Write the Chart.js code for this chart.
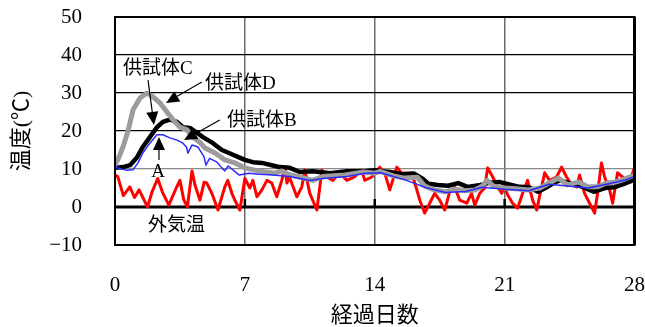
<!DOCTYPE html>
<html>
<head>
<meta charset="utf-8">
<script src="https://cdn.jsdelivr.net/npm/chart.js@4.4.1/dist/chart.umd.min.js"></script>
<style>
  html, body { margin: 0; padding: 0; background: #fff; }
  #wrap { width: 645px; height: 327px; }
</style>
</head>
<body>
<div id="wrap"><canvas id="c" width="645" height="327"></canvas></div>
<script>
// Elapsed days / temperature (°C) for each measured series
const xTicks = [0, 7, 14, 21, 28];
const yTicks = [-10, 0, 10, 20, 30, 40, 50];

// 外気温 (outdoor air)
const airDays = [0, 0.15, 0.45, 0.8, 1.05, 1.3, 1.75, 2.0, 2.3, 2.55, 2.9, 3.3, 3.5, 3.7, 3.9, 4.15, 4.31, 4.58, 4.8, 4.95, 5.22, 5.55, 5.92, 6.08, 6.3, 6.46, 6.73, 7.0, 7.27, 7.43, 7.65, 7.92, 8.19, 8.45, 8.72, 8.99, 9.15, 9.27, 9.4, 9.8, 10.07, 10.23, 10.5, 10.88, 11.04, 11.15, 11.4, 11.74, 12.1, 12.5, 12.9, 13.3, 13.46, 13.84, 14.27, 14.54, 14.81, 15.19, 15.45, 15.99, 16.16, 16.43, 16.69, 16.96, 17.23, 17.5, 17.77, 18.04, 18.31, 18.58, 18.96, 19.22, 19.39, 19.66, 19.92, 20.09, 20.36, 20.57, 20.84, 21.0, 21.16, 21.43, 21.7, 21.97, 22.24, 22.51, 22.73, 22.99, 23.16, 23.42, 23.8, 24.07, 24.34, 24.61, 24.88, 25.04, 25.31, 25.58, 25.85, 26.01, 26.22, 26.39, 26.66, 26.82, 27.09, 27.36, 27.73, 28.0];
const airTemps = [8.4, 8.0, 3.0, 5.3, 2.5, 4.5, 0.0, 4.0, 7.5, 4.0, 0.5, 5.0, 7.0, 2.0, 0.0, 9.5, 5.8, 1.8, 6.5, 6.3, 3.6, -0.8, 5.3, 7.0, 3.6, 1.8, -0.8, 7.5, 5.0, 7.0, 2.7, 4.5, 7.0, 6.3, 2.7, 7.0, 10.5, 6.3, 7.9, 2.7, 5.3, 9.7, 3.6, -0.8, 5.3, 9.7, 7.9, 7.0, 9.0, 7.0, 7.9, 9.7, 7.0, 7.9, 10.5, 8.9, 4.5, 10.5, 8.9, 8.9, 6.3, 1.8, -1.6, 1.0, 3.6, 1.8, -0.8, 4.0, 5.3, 1.8, 1.0, 3.6, 0.5, 3.6, 5.0, 10.3, 7.9, 5.8, 3.6, 5.3, 3.2, 1.0, -0.3, 3.6, 7.0, 1.8, -0.8, 5.3, 9.0, 7.0, 7.9, 10.5, 7.9, 5.8, 5.3, 8.4, 3.6, 1.0, -1.6, 3.6, 11.6, 7.9, 4.5, 1.0, 9.0, 7.9, 6.6, 10.3];

// 供試体A (thin blue)
const specADays = [0, 0.1, 0.6, 0.97, 1.24, 1.5, 1.88, 2.26, 2.58, 2.96, 3.34, 3.66, 3.85, 3.93, 4.15, 4.47, 4.8, 4.9, 5.1, 5.5, 5.76, 5.92, 6.1, 6.7, 7.2, 7.8, 8.5, 9.4, 10.5, 11.2, 12.5, 13.4, 14.3, 15.6, 16.7, 17.8, 18.9, 19.8, 21.0, 22.3, 23.4, 24.4, 25.5, 26.5, 27.5, 28.0];
const specATemps = [11.0, 10.3, 9.7, 9.8, 11.6, 14.2, 16.8, 19.0, 19.0, 18.2, 17.6, 16.8, 15.8, 14.2, 16.3, 15.8, 13.2, 11.0, 12.8, 11.8, 10.3, 9.5, 10.8, 8.4, 8.9, 8.6, 8.4, 8.0, 7.0, 7.5, 8.0, 8.8, 9.0, 7.2, 5.2, 3.8, 4.1, 5.2, 4.7, 4.3, 6.0, 5.5, 5.0, 6.0, 7.1, 8.0];

// 供試体 (thick grey)
const specCDays = [0, 0.2, 0.43, 0.7, 0.97, 1.35, 1.72, 2.05, 2.42, 2.8, 3.12, 3.5, 3.88, 4.2, 4.58, 4.85, 5.39, 5.92, 6.46, 7.0, 7.54, 8.08, 8.62, 9.0, 9.4, 9.96, 10.66, 11.2, 12.4, 13.4, 14.0, 14.3, 15.0, 15.6, 16.3, 16.7, 17.2, 17.8, 18.3, 18.9, 19.4, 19.8, 20.05, 20.4, 21.0, 21.6, 22.3, 22.9, 23.4, 23.9, 24.4, 25.0, 25.5, 26.0, 26.5, 27.0, 27.5, 28.0];
const specCTemps = [11.0, 13.0, 15.8, 20.0, 25.5, 28.7, 30.0, 29.0, 27.4, 25.0, 23.0, 21.0, 20.3, 18.4, 17.0, 15.5, 14.2, 12.4, 11.6, 10.3, 9.7, 9.2, 8.9, 9.5, 8.5, 7.9, 7.0, 8.0, 8.4, 9.2, 8.9, 9.4, 8.2, 7.6, 7.8, 5.5, 4.5, 4.0, 4.7, 4.3, 4.5, 5.5, 7.0, 5.5, 5.0, 4.8, 4.5, 5.0, 6.3, 7.6, 5.8, 6.6, 5.3, 5.3, 6.3, 6.6, 7.4, 8.4];

// 供試体 (thick black)
const specDDays = [0, 0.43, 0.81, 1.18, 1.5, 1.88, 2.26, 2.58, 2.96, 3.34, 3.66, 4.04, 4.36, 4.74, 5.28, 5.76, 6.14, 6.62, 7.0, 7.43, 7.92, 8.45, 8.88, 9.42, 9.96, 10.66, 11.6, 12.5, 13.4, 14.0, 14.8, 15.5, 16.1, 16.6, 16.9, 17.4, 17.95, 18.5, 19.0, 19.7, 20.2, 20.7, 21.2, 21.8, 22.3, 22.8, 23.2, 23.7, 24.0, 24.5, 25.2, 25.8, 26.4, 26.9, 27.4, 27.9, 28.0];
const specDTemps = [10.3, 10.5, 11.0, 13.0, 15.8, 18.4, 21.0, 22.4, 23.0, 22.4, 21.0, 20.8, 19.7, 18.4, 16.8, 15.0, 14.2, 13.2, 12.4, 11.8, 11.6, 11.0, 10.5, 10.3, 9.2, 9.4, 8.9, 9.4, 9.4, 9.7, 9.2, 8.6, 8.8, 7.4, 6.1, 5.8, 5.6, 6.3, 5.3, 5.8, 6.4, 6.6, 6.0, 5.3, 5.2, 4.0, 5.0, 6.5, 7.0, 6.3, 5.3, 4.0, 5.0, 5.2, 6.0, 7.0, 7.5];

// Callout labels and arrows, placed in data units (day, °C)
const calloutTexts = ['供試体C', '供試体D', '供試体B'];
const calloutAnchors = [[0.43, 36.3], [4.85, 32.4], [6.03, 22.6]];
const arrowFrom = [[1.78, 33.4], [4.68, 32.9], [5.65, 22.9], [2.37, 12.4]];
const arrowTo = [[2.10, 21.6], [2.75, 27.4], [3.72, 17.6], [2.37, 18.4]];

const SERIF = "'Liberation Serif', 'Noto Sans CJK JP', serif";

function pts(xs, ys) { return xs.map((x, i) => ({ x: x, y: ys[i] })); }

const overlay = {
  id: 'overlay',
  beforeDatasetsDraw(chart) {
    const { ctx, chartArea: a, scales: { x, y } } = chart;
    ctx.save();
    // zero line
    const y0 = y.getPixelForValue(0);
    ctx.strokeStyle = '#000';
    ctx.lineWidth = 3;
    ctx.beginPath(); ctx.moveTo(a.left, y0); ctx.lineTo(a.right, y0); ctx.stroke();
    // tick marks on the zero line
    ctx.lineWidth = 2.5;
    [7, 14, 21].forEach(d => {
      const px = x.getPixelForValue(d);
      ctx.beginPath(); ctx.moveTo(px, y0); ctx.lineTo(px, y0 - 8); ctx.stroke();
    });
    ctx.restore();
  },
  afterDatasetsDraw(chart) {
    const { ctx, chartArea: a, scales: { x, y } } = chart;
    ctx.save();
    // frame
    ctx.strokeStyle = '#000';
    ctx.lineWidth = 2;
    ctx.strokeRect(a.left, a.top, a.right - a.left, a.bottom - a.top);
    ctx.lineWidth = 3;
    ctx.beginPath(); ctx.moveTo(a.right, a.top); ctx.lineTo(a.right, a.bottom); ctx.stroke();

    // callout texts
    ctx.fillStyle = '#000';
    ctx.font = '19px ' + SERIF;
    ctx.textBaseline = 'middle';
    ctx.textAlign = 'left';
    calloutTexts.forEach((t, i) => {
      ctx.fillText(t, x.getPixelForValue(calloutAnchors[i][0]), y.getPixelForValue(calloutAnchors[i][1]));
    });
    ctx.textAlign = 'center';
    ctx.fillText('A', x.getPixelForValue(2.32), y.getPixelForValue(9.2));
    ctx.textAlign = 'left';
    ctx.fillText('外気温', x.getPixelForValue(1.78), y.getPixelForValue(-5));

    // arrows
    arrowFrom.forEach((f, i) => {
      const x1 = x.getPixelForValue(f[0]), y1 = y.getPixelForValue(f[1]);
      const x2 = x.getPixelForValue(arrowTo[i][0]), y2 = y.getPixelForValue(arrowTo[i][1]);
      const ang = Math.atan2(y2 - y1, x2 - x1);
      const hl = 13, hw = 6;
      const bx = x2 - hl * Math.cos(ang), by = y2 - hl * Math.sin(ang);
      ctx.strokeStyle = '#000';
      ctx.lineWidth = 1.2;
      ctx.beginPath(); ctx.moveTo(x1, y1); ctx.lineTo(bx, by); ctx.stroke();
      ctx.beginPath();
      ctx.moveTo(x2, y2);
      ctx.lineTo(bx + hw * Math.sin(ang), by - hw * Math.cos(ang));
      ctx.lineTo(bx - hw * Math.sin(ang), by + hw * Math.cos(ang));
      ctx.closePath();
      ctx.fill();
    });
    ctx.restore();
  }
};

new Chart(document.getElementById('c'), {
  type: 'line',
  data: {
    datasets: [
      { label: '供試体A', data: pts(specADays, specATemps), borderColor: '#2a2aff', borderWidth: 1.5 },
      { label: '供試体C', data: pts(specCDays, specCTemps), borderColor: '#9c9c9c', borderWidth: 5 },
      { label: '供試体D', data: pts(specDDays, specDTemps), borderColor: '#000000', borderWidth: 4.5 },
      { label: '外気温', data: pts(airDays, airTemps), borderColor: '#ff0000', borderWidth: 3 }
    ]
  },
  options: {
    responsive: false,
    devicePixelRatio: 1,
    animation: false,
    elements: { point: { radius: 0 }, line: { tension: 0, borderJoinStyle: 'round', borderCapStyle: 'round' } },
    layout: { padding: { left: 0, right: 10, top: 17, bottom: 0 } },
    plugins: { legend: { display: false }, tooltip: { enabled: false } },
    scales: {
      x: {
        type: 'linear',
        min: 0, max: 28,
        afterBuildTicks: s => { s.ticks = xTicks.map(v => ({ value: v })); },
        afterFit: s => { s.height = 82; },
        grid: {
          drawTicks: true,
          tickLength: 28,
          tickColor: 'rgba(0,0,0,0)',
          color: c => (c.tick && (c.tick.value === 0 || c.tick.value === 28)) ? 'rgba(0,0,0,0)' : '#6a6a6a',
          lineWidth: 1.5
        },
        border: { display: false },
        ticks: { color: '#000', padding: 0, font: { family: SERIF, size: 21 } },
        title: { display: true, text: '経過日数', color: '#000', padding: { top: 0, bottom: 0 }, font: { family: SERIF, size: 22, lineHeight: 1.0 } }
      },
      y: {
        min: -10, max: 50,
        afterBuildTicks: s => { s.ticks = yTicks.map(v => ({ value: v })); },
        afterFit: s => { s.width = 115; },
        grid: {
          drawTicks: true,
          tickLength: 31,
          tickColor: 'rgba(0,0,0,0)',
          color: c => {
            const v = c.tick ? c.tick.value : null;
            if (v === -10 || v === 50 || v === 0) return 'rgba(0,0,0,0)';
            if (v === 10) return '#8a8a8a';
            return '#000';
          },
          lineWidth: 1.2
        },
        border: { display: false },
        ticks: {
          color: '#000', padding: 2, font: { family: SERIF, size: 21 },
          callback: v => (v < 0 ? '\u2212' + Math.abs(v) : String(v))
        },
        title: { display: true, text: '温度(℃)', color: '#000', padding: { top: 9, bottom: 0 }, font: { family: SERIF, size: 22 } }
      }
    }
  },
  plugins: [overlay]
});
</script>
</body>
</html>
